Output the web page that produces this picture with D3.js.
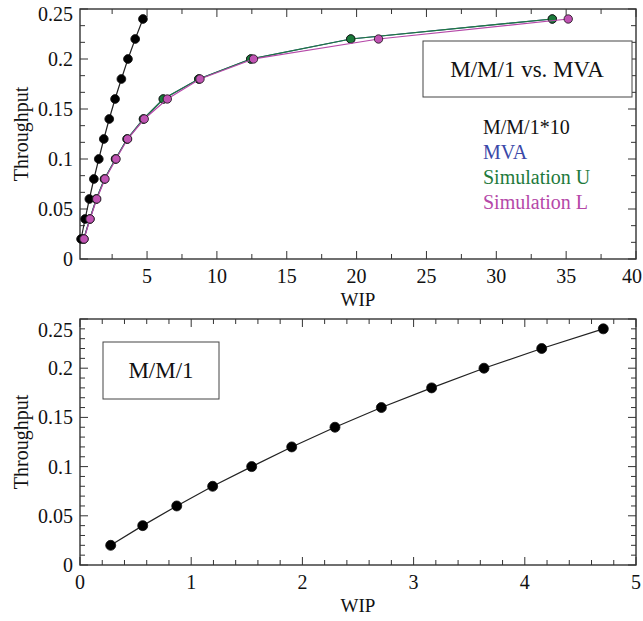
<!DOCTYPE html>
<html>
<head>
<meta charset="utf-8">
<script src="https://cdn.jsdelivr.net/npm/d3@7"></script>
<style>
  body { margin: 0; background: #fff; }
  svg { display: block; }
</style>
</head>
<body>
<svg id="chart" width="643" height="621" font-family="'Liberation Serif', 'Times New Roman', Times, 'DejaVu Serif', serif"></svg>
<script>
// Throughput levels (shared y values of every series)
const throughput = [0.02, 0.04, 0.06, 0.08, 0.10, 0.12, 0.14, 0.16, 0.18, 0.20, 0.22, 0.24];
// WIP for each throughput level
const mm1Wip  = [0.276, 0.564, 0.87, 1.193, 1.544, 1.904, 2.293, 2.71, 3.162, 3.633, 4.152, 4.706];
const mvaWip  = [0.47, 0.90, 1.37, 1.95, 2.74, 3.57, 4.74, 6.16, 8.70, 12.42, 19.58, 34.01];
const simUWip = [0.47, 0.90, 1.37, 1.95, 2.74, 3.57, 4.74, 6.16, 8.70, 12.42, 19.58, 34.01];
const simLWip = [0.49, 0.92, 1.40, 1.99, 2.78, 3.61, 4.80, 6.45, 8.79, 12.62, 21.57, 35.15];

// Axis ticks
const topXTicks = [5, 10, 15, 20, 25, 30, 35, 40];
const topXMinor = [2.5, 7.5, 12.5, 17.5, 22.5, 27.5, 32.5, 37.5];
const bottomXTicks = [0, 1, 2, 3, 4, 5];
const yTicks = [0, 0.05, 0.1, 0.15, 0.2, 0.25];
const yTickLabels = ["0", "0.05", "0.1", "0.15", "0.2", "0.25"];

// Legend
const legendNames  = ["M/M/1*10", "MVA", "Simulation U", "Simulation L"];
const legendColors = ["#111111", "#3a48a8", "#1e7a3c", "#b548a8"];

const svg = d3.select("#chart");

function drawPanel(p) {
  const g = svg.append("g");
  const x = d3.scaleLinear().domain(p.xDomain).range([p.left, p.right]);
  const y = d3.scaleLinear().domain([0, 0.25]).range([p.bottom, p.top]);
  const frame = "#333";
  const majorLen = 8, minorLen = 5;

  // Frame
  g.append("rect")
    .attr("x", p.left).attr("y", p.top)
    .attr("width", p.right - p.left).attr("height", p.bottom - p.top)
    .attr("fill", "none").attr("stroke", frame).attr("stroke-width", 1.4);

  const tickLine = (sel) => sel.attr("stroke", frame).attr("stroke-width", 1);

  // X ticks (bottom and top, pointing inward)
  p.xTicks.forEach(v => {
    tickLine(g.append("line").attr("x1", x(v)).attr("x2", x(v)).attr("y1", p.bottom).attr("y2", p.bottom - majorLen));
    tickLine(g.append("line").attr("x1", x(v)).attr("x2", x(v)).attr("y1", p.top).attr("y2", p.top + majorLen));
  });
  p.xMinor.forEach(v => {
    tickLine(g.append("line").attr("x1", x(v)).attr("x2", x(v)).attr("y1", p.bottom).attr("y2", p.bottom - minorLen));
    tickLine(g.append("line").attr("x1", x(v)).attr("x2", x(v)).attr("y1", p.top).attr("y2", p.top + minorLen));
  });
  g.selectAll(".xl").data(p.xTicks).enter().append("text")
    .attr("x", d => Math.min(x(d), 643 - p.edgePad))
    .attr("y", p.bottom + 24)
    .attr("text-anchor", "middle").attr("font-size", 20).attr("fill", "#111")
    .text(d => d3.format("")(d));

  // Y ticks (left and right, pointing inward)
  yTicks.forEach(v => {
    tickLine(g.append("line").attr("x1", p.left).attr("x2", p.left + majorLen).attr("y1", y(v)).attr("y2", y(v)));
    tickLine(g.append("line").attr("x1", p.right).attr("x2", p.right - majorLen).attr("y1", y(v)).attr("y2", y(v)));
  });
  p.yMinor.forEach(v => {
    tickLine(g.append("line").attr("x1", p.left).attr("x2", p.left + minorLen).attr("y1", y(v)).attr("y2", y(v)));
    tickLine(g.append("line").attr("x1", p.right).attr("x2", p.right - minorLen).attr("y1", y(v)).attr("y2", y(v)));
  });
  g.selectAll(".yl").data(yTicks).enter().append("text")
    .attr("x", p.left - 7)
    .attr("y", (d, i) => y(d) + 7 + (i === yTicks.length - 1 ? p.topLabelNudge : 0))
    .attr("text-anchor", "end").attr("font-size", 20).attr("fill", "#111")
    .text((d, i) => yTickLabels[i]);

  // Axis titles
  g.append("text")
    .attr("transform", `translate(${p.left - 52},${(p.top + p.bottom) / 2}) rotate(-90)`)
    .attr("text-anchor", "middle").attr("font-size", 20).attr("fill", "#111").text("Throughput");
  g.append("text")
    .attr("x", (p.left + p.right) / 2).attr("y", p.bottom + 47)
    .attr("text-anchor", "middle").attr("font-size", 19).attr("fill", "#111").text("WIP");

  const line = d3.line().x(d => x(d[0])).y(d => y(d[1]));

  p.series.forEach(s => {
    const pts = s.wip.map((w, i) => [w, throughput[i]]);
    g.append("path").datum(pts).attr("d", line)
      .attr("fill", "none").attr("stroke", s.color).attr("stroke-width", 1.2);
    g.selectAll(null).data(pts).enter().append("circle")
      .attr("cx", d => x(d[0])).attr("cy", d => y(d[1])).attr("r", s.r)
      .attr("fill", s.fill).attr("stroke", "#111").attr("stroke-width", 0.8);
  });

  return { g, x, y };
}

// Upper panel: M/M/1 vs. MVA and simulations
const upperPanel = drawPanel({
  left: 80, right: 636, top: 9, bottom: 259,
  xDomain: [0.2, 40], xTicks: topXTicks, xMinor: topXMinor, edgePad: 11,
  yMinor: d3.range(0, 0.25, 0.05 / 3).filter((v, i) => i % 3 !== 0),
  topLabelNudge: 5,
  series: [
    { wip: mm1Wip,  color: "#222",          fill: "#000",    r: 4.4 },
    { wip: mvaWip,  color: legendColors[1], fill: "#3a48a8", r: 4.2 },
    { wip: simUWip, color: legendColors[2], fill: "#1a7a3a", r: 4.2 },
    { wip: simLWip, color: legendColors[3], fill: "#c053b3", r: 4.2 }
  ]
});

upperPanel.g.append("rect").attr("x", 423).attr("y", 41).attr("width", 209).attr("height", 56)
  .attr("fill", "#fff").attr("stroke", "#444").attr("stroke-width", 1);
upperPanel.g.append("text").attr("x", 527).attr("y", 77).attr("text-anchor", "middle")
  .attr("font-size", 23).attr("fill", "#111").text("M/M/1 vs. MVA");
upperPanel.g.selectAll(".leg").data(legendNames).enter().append("text")
  .attr("x", 483).attr("y", (d, i) => 134 + i * 25)
  .attr("font-size", 20).attr("fill", (d, i) => legendColors[i]).text(d => d);

// Lower panel: M/M/1 alone
const lowerPanel = drawPanel({
  left: 80, right: 636, top: 319, bottom: 565,
  xDomain: [0, 5], xTicks: bottomXTicks, edgePad: 6,
  xMinor: d3.range(0, 5, 0.2).filter((v, i) => i % 5 !== 0),
  yMinor: d3.range(0, 0.25, 0.01).filter((v, i) => i % 5 !== 0),
  topLabelNudge: 11,
  series: [
    { wip: mm1Wip, color: "#222", fill: "#000", r: 5 }
  ]
});

lowerPanel.g.append("rect").attr("x", 103).attr("y", 342).attr("width", 116).attr("height", 57)
  .attr("fill", "#fff").attr("stroke", "#444").attr("stroke-width", 1);
lowerPanel.g.append("text").attr("x", 161).attr("y", 378).attr("text-anchor", "middle")
  .attr("font-size", 23).attr("fill", "#111").text("M/M/1");
</script>
</body>
</html>
